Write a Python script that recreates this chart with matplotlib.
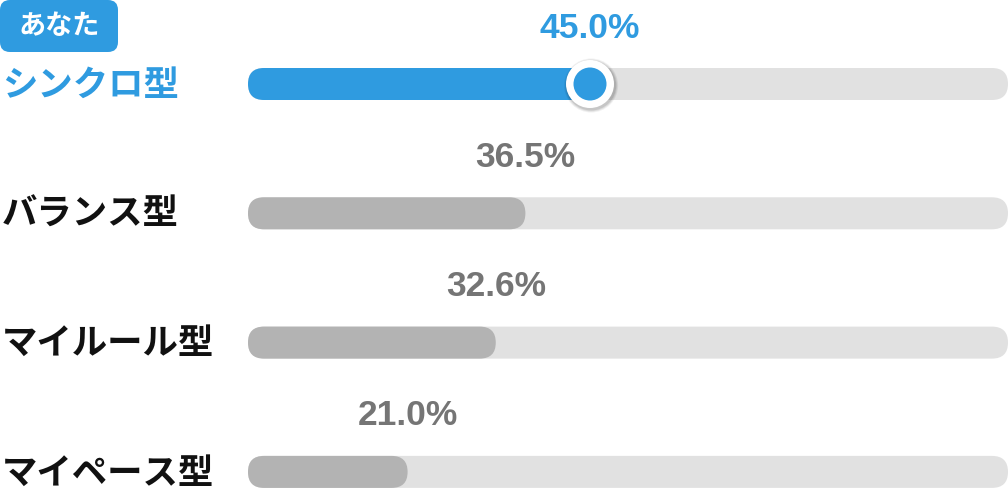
import matplotlib
matplotlib.use('Agg')
from matplotlib import pyplot as plt
from matplotlib.patches import FancyBboxPatch, Circle

types = ['シンクロ型', 'バランス型', 'マイルール型', 'マイペース型']
percents = [45.0, 36.5, 32.6, 21.0]
you_index = 0
badge_text = 'あなた'

blue = '#2f9be0'
track_grey = '#e1e1e1'
fill_grey = '#b3b3b3'
value_grey = '#757575'

plt.rcParams['font.family'] = ['Noto Sans CJK JP', 'DejaVu Sans']

W, H = 1008, 495
fig = plt.figure(figsize=(W / 100, H / 100), dpi=100)
ax = fig.add_axes([0, 0, 1, 1])
ax.axis('off')

# 1 data unit = 1 % of the track; track runs from pixel 248 to 1008
px = 760 / 100.0
left = -248 / px
ax.set_xlim(left, 100)
ax.set_ylim(H / px, 0)
ax.set_aspect('equal')

bar_h = 32 / px
row_y = [(84 + i * 129.3) / px for i in range(len(types))]

for i, (name, pct) in enumerate(zip(types, percents)):
    yc = row_y[i]
    mine = i == you_index
    col = blue if mine else fill_grey

    track = FancyBboxPatch((0, yc - bar_h / 2), 100, bar_h,
                           boxstyle=f"round,pad=0,rounding_size={bar_h / 2}",
                           fc=track_grey, ec='none', zorder=1)
    ax.add_patch(track)
    fill = FancyBboxPatch((0, yc - bar_h / 2), pct, bar_h,
                          boxstyle=f"round,pad=0,rounding_size={bar_h / 2}",
                          fc=col, ec='none', zorder=2)
    ax.add_patch(fill)

    ax.text(left + 2 / px, yc + 1 / px, name, ha='left', va='center',
            fontsize=25.5, fontweight='bold',
            color=blue if mine else '#111111')
    ax.text(pct, yc - 56 / px, f'{pct:.1f}%', ha='center', va='center',
            fontsize=25.5, fontweight='bold', family=['Liberation Sans'],
            color=blue if mine else value_grey)

    if mine:
        for k, a in enumerate([0.06, 0.08, 0.10]):
            ax.add_patch(Circle((pct + 0.15, yc + 1.5 / px), (27 - k) / px,
                                fc='black', alpha=a, ec='none', zorder=3))
        ax.add_patch(Circle((pct, yc), 24 / px, fc='white', ec='none', zorder=4))
        ax.add_patch(Circle((pct, yc), 16.5 / px, fc=blue, ec='none', zorder=5))

# "あなた" badge in the top-left corner
badge = FancyBboxPatch((left, 0), 118 / px, 52 / px,
                       boxstyle=f"round,pad=0,rounding_size={10 / px}",
                       fc=blue, ec='none', zorder=2)
ax.add_patch(badge)
ax.text(left + 59 / px, 26 / px, badge_text, ha='center', va='center',
        fontsize=19.5, fontweight='bold', color='white', zorder=3)

fig.savefig('out.png', dpi=100)
